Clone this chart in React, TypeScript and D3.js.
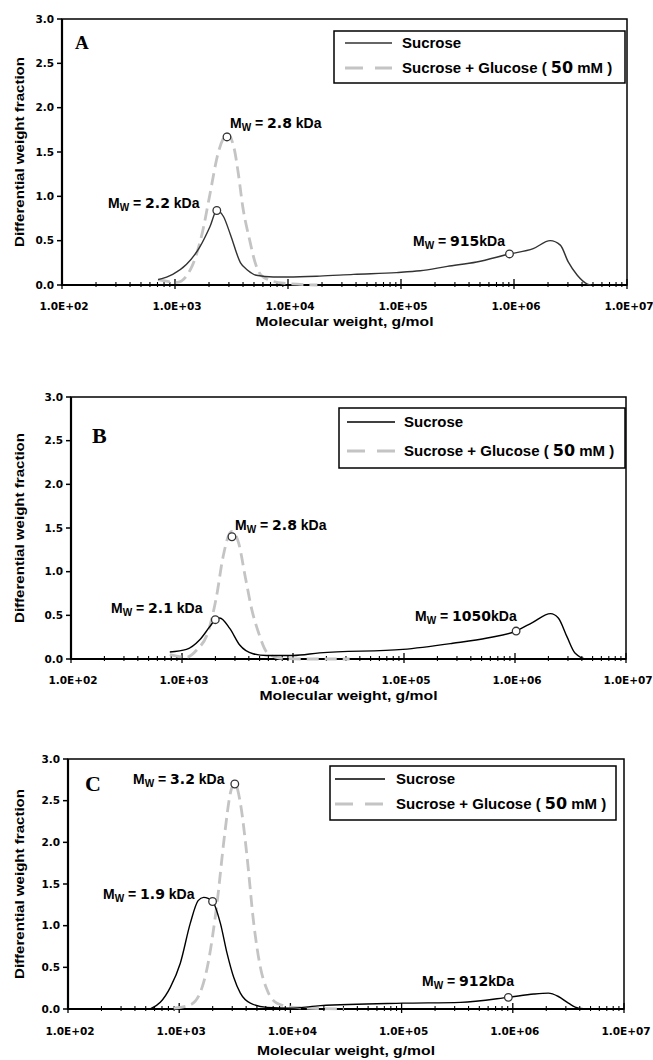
import React, { useEffect, useRef } from 'react';
import * as d3 from 'd3';

// log10(M, g/mol) and differential weight fraction
const aSucroseLogM = [2.85, 2.98, 3.10, 3.22, 3.31, 3.37, 3.43, 3.49, 3.58, 3.64, 3.72, 3.87, 4.0, 4.28, 4.58, 4.96, 5.17, 5.41, 5.67, 5.96, 6.17, 6.32, 6.41, 6.48, 6.56, 6.65, 6.68];
const aSucroseW = [0.06, 0.12, 0.23, 0.43, 0.66, 0.84, 0.77, 0.57, 0.25, 0.17, 0.11, 0.09, 0.09, 0.10, 0.12, 0.14, 0.16, 0.21, 0.26, 0.35, 0.41, 0.50, 0.45, 0.26, 0.11, 0.01, 0.0];
const aGlucoseLogM = [2.85, 3.02, 3.15, 3.24, 3.31, 3.38, 3.44, 3.46, 3.52, 3.56, 3.60, 3.66, 3.71, 3.78, 3.96, 4.26];
const aGlucoseW = [0.06, 0.03, 0.21, 0.58, 1.03, 1.48, 1.68, 1.71, 1.56, 1.26, 0.88, 0.51, 0.25, 0.09, 0.02, 0.0];

const bSucroseLogM = [2.89, 3.04, 3.16, 3.25, 3.30, 3.34, 3.43, 3.52, 3.64, 3.76, 4.0, 4.24, 4.99, 5.44, 5.75, 6.01, 6.16, 6.32, 6.39, 6.47, 6.54, 6.65, 6.75];
const bSucroseW = [0.08, 0.11, 0.22, 0.37, 0.45, 0.47, 0.35, 0.16, 0.06, 0.04, 0.04, 0.07, 0.11, 0.18, 0.24, 0.32, 0.42, 0.52, 0.47, 0.25, 0.07, 0.0, 0.0];
const bGlucoseLogM = [2.89, 3.04, 3.13, 3.24, 3.31, 3.37, 3.43, 3.45, 3.51, 3.57, 3.63, 3.69, 3.77, 3.88, 4.1, 4.51];
const bGlucoseW = [0.05, 0.02, 0.10, 0.33, 0.71, 1.17, 1.44, 1.46, 1.33, 0.94, 0.56, 0.30, 0.07, 0.01, 0.0, 0.0];

const cSucroseLogM = [2.74, 2.83, 2.92, 3.01, 3.10, 3.17, 3.22, 3.30, 3.37, 3.43, 3.49, 3.55, 3.64, 3.79, 4.0, 4.27, 5.01, 5.53, 5.96, 6.19, 6.32, 6.41, 6.50, 6.59, 6.70];
const cSucroseW = [0.0, 0.08, 0.26, 0.55, 1.03, 1.30, 1.34, 1.29, 1.03, 0.67, 0.38, 0.19, 0.07, 0.02, 0.01, 0.04, 0.07, 0.08, 0.14, 0.18, 0.19, 0.15, 0.07, 0.01, 0.0];
const cGlucoseLogM = [2.95, 3.10, 3.19, 3.26, 3.34, 3.41, 3.46, 3.50, 3.55, 3.61, 3.67, 3.73, 3.79, 3.88, 4.03, 4.48];
const cGlucoseW = [0.01, 0.05, 0.20, 0.55, 1.27, 2.11, 2.59, 2.71, 2.47, 1.83, 1.03, 0.50, 0.23, 0.07, 0.02, 0.0];

// Mw markers: [sucrose low, glucose, sucrose high]
const aMarkerLogM = [3.37, 3.46, 5.96];
const aMarkerW = [0.84, 1.67, 0.35];
const aMarkerLabels = ['2.2', '2.8', '915'];
const bMarkerLogM = [3.30, 3.45, 6.01];
const bMarkerW = [0.45, 1.40, 0.32];
const bMarkerLabels = ['2.1', '2.8', '1050'];
const cMarkerLogM = [3.30, 3.50, 5.96];
const cMarkerW = [1.29, 2.70, 0.14];
const cMarkerLabels = ['1.9', '3.2', '912'];

const xTickValues = [1e2, 1e3, 1e4, 1e5, 1e6, 1e7];
const xTickLabels = ['1.0E+02', '1.0E+03', '1.0E+04', '1.0E+05', '1.0E+06', '1.0E+07'];
const yTickValues = [0, 0.5, 1, 1.5, 2, 2.5, 3];
const yTickLabels = ['0.0', '0.5', '1.0', '1.5', '2.0', '2.5', '3.0'];
const legendLabels = ['Sucrose', 'Sucrose + Glucose ( ', '50', ' mM )'];
const xTitle = 'Molecular weight, g/mol';
const yTitle = 'Differential weight fraction';

const ARIAL = '"Liberation Sans", Arial, sans-serif';
const VERD = '"DejaVu Sans", Verdana, sans-serif';

const panels = [
  {
    letter: 'A', suc: [aSucroseLogM, aSucroseW], glu: [aGlucoseLogM, aGlucoseW],
    mk: [aMarkerLogM, aMarkerW, aMarkerLabels], sucColor: '#333',
    box: { left: 62, right: 627, top: 19, bottom: 285 },
    ann: [{ x: 108, y: 208 }, { x: 230, y: 128 }, { x: 413, y: 246 }],
    units: [' kDa', ' kDa', 'kDa'],
    legend: { x: 334, y: 31, w: 291, h: 52, r1: 43, r2: 68, l1: 345, l2: 392, tx: 402 },
    letterPos: { x: 75, y: 49, size: 19 }, tickY: 310, titleY: 326
  },
  {
    letter: 'B', suc: [bSucroseLogM, bSucroseW], glu: [bGlucoseLogM, bGlucoseW],
    mk: [bMarkerLogM, bMarkerW, bMarkerLabels], sucColor: '#000',
    box: { left: 71, right: 626, top: 397, bottom: 659 },
    ann: [{ x: 111, y: 613 }, { x: 235, y: 530 }, { x: 415, y: 621 }],
    units: [' kDa', ' kDa', 'kDa'],
    legend: { x: 339, y: 408, w: 286, h: 60, r1: 422, r2: 451, l1: 347, l2: 395, tx: 404 },
    letterPos: { x: 92, y: 443, size: 22 }, tickY: 684, titleY: 700
  },
  {
    letter: 'C', suc: [cSucroseLogM, cSucroseW], glu: [cGlucoseLogM, cGlucoseW],
    mk: [cMarkerLogM, cMarkerW, cMarkerLabels], sucColor: '#000',
    box: { left: 68, right: 624, top: 759, bottom: 1009 },
    ann: [{ x: 103, y: 899 }, { x: 133, y: 784 }, { x: 422, y: 986 }],
    units: [' kDa', ' kDa', 'kDa'],
    legend: { x: 330, y: 766, w: 286, h: 54, r1: 779, r2: 804, l1: 335, l2: 385, tx: 396 },
    letterPos: { x: 85, y: 791, size: 22 }, tickY: 1035, titleY: 1055
  }
];

export default function App() {
  const svgRef = useRef<SVGSVGElement>(null);

  useEffect(() => {
    if (!svgRef.current) return;
    const svg = d3.select(svgRef.current);
    svg.selectAll('*').remove();

    panels.forEach(p => {
      const { left, right, top, bottom } = p.box;
      const x = d3.scaleLog().domain([1e2, 1e7]).range([left, right]);
      const y = d3.scaleLinear().domain([0, 3]).range([bottom, top]);
      const g = svg.append('g');

      // frame
      g.append('rect')
        .attr('x', left).attr('y', top)
        .attr('width', right - left).attr('height', bottom - top)
        .attr('fill', 'none').attr('stroke', '#000').attr('stroke-width', 1.5);
      g.append('line').attr('x1', left).attr('x2', left).attr('y1', top).attr('y2', bottom + 1)
        .attr('stroke', '#000').attr('stroke-width', 2.2);
      g.append('line').attr('x1', left).attr('x2', right).attr('y1', bottom).attr('y2', bottom)
        .attr('stroke', '#000').attr('stroke-width', 2.2);

      // y ticks
      yTickValues.forEach((v, i) => {
        g.append('line').attr('x1', left - 5).attr('x2', left).attr('y1', y(v)).attr('y2', y(v))
          .attr('stroke', '#000').attr('stroke-width', 1.5);
        g.append('text')
          .attr('x', left - 8).attr('y', y(v)).attr('dy', '0.36em')
          .attr('text-anchor', 'end')
          .style('font-family', VERD).style('font-weight', 'bold').style('font-size', '10.5px')
          .text(yTickLabels[i]);
      });

      // x ticks: major + minor
      xTickValues.forEach((v, i) => {
        g.append('line').attr('x1', x(v)).attr('x2', x(v)).attr('y1', bottom - 6).attr('y2', bottom + 4)
          .attr('stroke', '#000').attr('stroke-width', 1.3);
        g.append('text')
          .attr('x', x(v) + 2).attr('y', p.tickY)
          .attr('text-anchor', 'middle')
          .style('font-family', VERD).style('font-weight', 'bold').style('font-size', '10.5px')
          .text(xTickLabels[i]);
        if (i < xTickValues.length - 1) {
          for (let m = 2; m <= 9; m++) {
            g.append('line').attr('x1', x(v * m)).attr('x2', x(v * m))
              .attr('y1', bottom - 3).attr('y2', bottom + 2)
              .attr('stroke', '#000').attr('stroke-width', 1.1);
          }
        }
      });

      // axis titles
      g.append('text')
        .attr('x', (left + right) / 2).attr('y', p.titleY)
        .attr('text-anchor', 'middle')
        .attr('textLength', 178).attr('lengthAdjust', 'spacingAndGlyphs')
        .style('font-family', ARIAL).style('font-weight', 'bold').style('font-size', '12.5px')
        .text(xTitle);
      g.append('text')
        .attr('transform', `translate(24, ${(top + bottom) / 2}) rotate(-90)`)
        .attr('text-anchor', 'middle')
        .attr('textLength', 190).attr('lengthAdjust', 'spacingAndGlyphs')
        .style('font-family', ARIAL).style('font-weight', 'bold').style('font-size', '12.5px')
        .text(yTitle);

      // panel letter
      g.append('text')
        .attr('x', p.letterPos.x).attr('y', p.letterPos.y)
        .style('font-family', '"Liberation Serif", "Times New Roman", serif')
        .style('font-weight', 'bold').style('font-size', `${p.letterPos.size}px`)
        .text(p.letter);

      const line = d3.line<[number, number]>()
        .x(d => x(Math.pow(10, d[0])))
        .y(d => y(d[1]))
        .curve(d3.curveMonotoneX);

      const gluPts = p.glu[0].map((lm, i) => [lm, p.glu[1][i]] as [number, number]);
      const sucPts = p.suc[0].map((lm, i) => [lm, p.suc[1][i]] as [number, number]);

      g.append('path').datum(gluPts).attr('d', line as any)
        .attr('fill', 'none').attr('stroke', '#c4c4c4').attr('stroke-width', 2.8)
        .attr('stroke-dasharray', '12,6');
      g.append('path').datum(sucPts).attr('d', line as any)
        .attr('fill', 'none').attr('stroke', p.sucColor).attr('stroke-width', 1.4);

      // Mw markers + labels
      const [mLogM, mW, mLab] = p.mk as [number[], number[], string[]];
      mLogM.forEach((lm, i) => {
        g.append('circle')
          .attr('cx', x(Math.pow(10, lm))).attr('cy', y(mW[i])).attr('r', 3.8)
          .attr('fill', '#fff').attr('stroke', '#333').attr('stroke-width', 1.3);
        const t = g.append('text')
          .attr('x', p.ann[i].x).attr('y', p.ann[i].y)
          .style('font-family', ARIAL).style('font-weight', 'bold').style('font-size', '14px');
        t.append('tspan').text('M');
        t.append('tspan').attr('dy', 3).style('font-size', '10px').text('W');
        t.append('tspan').attr('dy', -3).text(' = ');
        t.append('tspan').style('font-family', VERD).text(mLab[i]);
        t.append('tspan').text(p.units[i]);
      });

      // legend
      const L = p.legend;
      g.append('rect').attr('x', L.x).attr('y', L.y).attr('width', L.w).attr('height', L.h)
        .attr('fill', '#fff').attr('stroke', '#000').attr('stroke-width', 1.5);
      g.append('line').attr('x1', L.l1).attr('x2', L.l2).attr('y1', L.r1).attr('y2', L.r1)
        .attr('stroke', p.sucColor).attr('stroke-width', 1.4);
      g.append('line').attr('x1', L.l1).attr('x2', L.l2).attr('y1', L.r2).attr('y2', L.r2)
        .attr('stroke', '#c4c4c4').attr('stroke-width', 2.8).attr('stroke-dasharray', '18,12');
      g.append('text').attr('x', L.tx).attr('y', L.r1 + 5)
        .style('font-family', ARIAL).style('font-weight', 'bold').style('font-size', '15px')
        .text(legendLabels[0]);
      const lt = g.append('text').attr('x', L.tx).attr('y', L.r2 + 5)
        .style('font-family', ARIAL).style('font-weight', 'bold').style('font-size', '15px');
      lt.append('tspan').text(legendLabels[1]);
      lt.append('tspan').style('font-family', VERD).style('font-size', '16px').text(legendLabels[2]);
      lt.append('tspan').text(legendLabels[3]);
    });
  }, []);

  return (
    <div style={{ position: 'absolute', left: 0, top: 0 }}>
      <svg ref={svgRef} width={653} height={1060} viewBox="0 0 653 1060" style={{ display: 'block', background: '#fff' }} />
    </div>
  );
}
